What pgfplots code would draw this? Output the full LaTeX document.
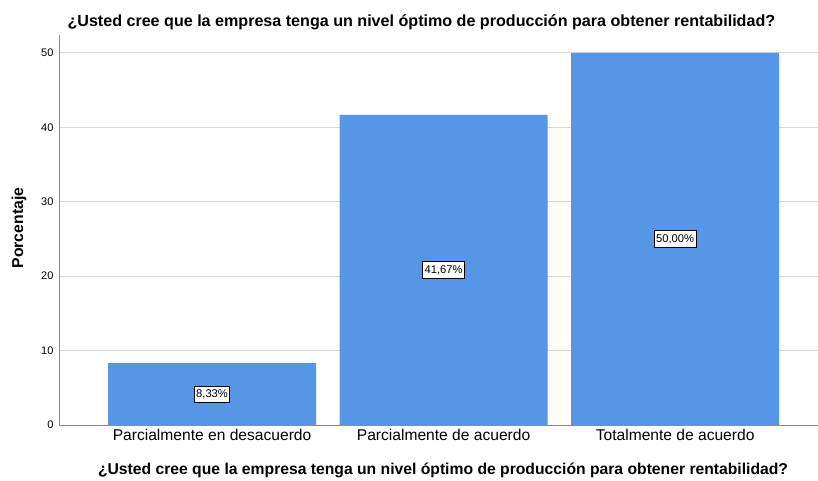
\documentclass[border=0pt]{standalone}
\usepackage{pgfplots}
\pgfplotsset{compat=1.18}
\usepackage{pgfplotstable}
\usepackage{fontspec}
\setmainfont{Liberation Sans}
\definecolor{barblue}{RGB}{85,150,230}
\definecolor{gridgray}{RGB}{215,215,215}
\definecolor{axisgray}{RGB}{140,140,140}
\pgfplotstableread{
x y mid lab
0 8.33 4.165 {8,33\%}
1 41.67 20.835 {41,67\%}
2 50.00 25.00 {50,00\%}
}\datatable
\begin{document}
\begin{tikzpicture}
\useasboundingbox (0,0) rectangle (818pt,481pt);
\begin{axis}[
  at={(59pt,56pt)}, anchor=south west,
  scale only axis, width=759pt, height=390pt,
  xmin=-0.661, xmax=2.617,
  ymin=0, ymax=52.4,
  axis x line*=bottom, axis y line*=left,
  axis line style={axisgray, line width=0.8pt},
  xtick={0,1,2},
  xticklabels={Parcialmente en desacuerdo, Parcialmente de acuerdo, Totalmente de acuerdo},
  ytick={0,10,20,30,40,50},
  major tick length=0pt,
  ymajorgrids, grid style={gridgray, line width=0.8pt},
  x tick label style={font=\fontsize{15.6}{17}\selectfont, yshift=-1pt},
  y tick label style={font=\fontsize{11}{13}\selectfont, xshift=-2pt},
  /pgf/number format/assume math mode=true,
  xlabel={¿Usted cree que la empresa tenga un nivel óptimo de producción para obtener rentabilidad?},
  ylabel={Porcentaje},
  title={¿Usted cree que la empresa tenga un nivel óptimo de producción para obtener rentabilidad?},
  every axis x label/.style={at={(rel axis cs:0.506,-0.1154)}, anchor=center, font=\bfseries\fontsize{15.7}{18}\selectfont},
  every axis y label/.style={at={(rel axis cs:-0.0527,0.505)}, anchor=center, rotate=90, font=\bfseries\fontsize{15.8}{18}\selectfont},
  every axis title/.style={at={(rel axis cs:0.0066,1.033)}, anchor=west, font=\bfseries\fontsize{16.1}{18}\selectfont},
  clip=false,
]
\addplot[ybar, bar width=208pt, fill=barblue, draw=none] table[x=x, y=y] {\datatable};
\addplot[draw=none, mark=none, nodes near coords, point meta=explicit symbolic,
  nodes near coords style={anchor=center, draw=black, fill=white, line width=0.7pt, inner xsep=1.8pt, inner ysep=3.5pt, font=\fontsize{11.2}{13}\selectfont}]
  table[x=x, y=mid, meta=lab] {\datatable};
\end{axis}
\end{tikzpicture}
\end{document}
